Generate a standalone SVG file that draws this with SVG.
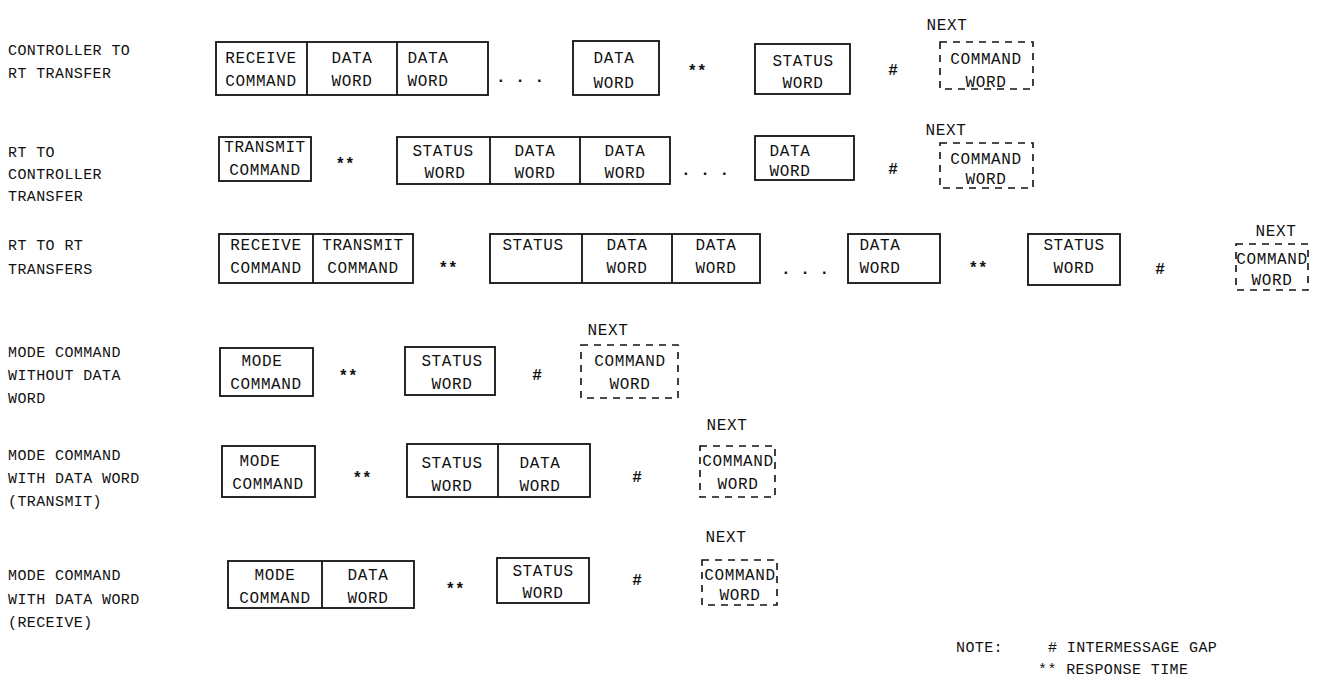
<svg xmlns="http://www.w3.org/2000/svg" width="1321" height="688" viewBox="0 0 1321 688">
<style>
.lbl{font-family:"Liberation Mono","DejaVu Sans Mono",monospace;font-size:15px;letter-spacing:0.4px;fill:#111}
.bt{font-family:"Liberation Mono","DejaVu Sans Mono",monospace;font-size:16px;letter-spacing:0.6px;fill:#111;text-anchor:middle}
.box{fill:none;stroke:#111;stroke-width:1.8}
.dash{fill:none;stroke:#111;stroke-width:1.6;stroke-dasharray:7 6}
.sym{font-family:"Liberation Mono","DejaVu Sans Mono",monospace;font-size:16px;font-weight:bold;fill:#111;text-anchor:middle}
</style>
<rect width="1321" height="688" fill="#fff"/>
<g id="labels">
<text class="lbl" x="8" y="55">CONTROLLER TO</text>
<text class="lbl" x="8" y="78">RT TRANSFER</text>
<text class="lbl" x="8" y="157">RT TO</text>
<text class="lbl" x="8" y="179">CONTROLLER</text>
<text class="lbl" x="8" y="201">TRANSFER</text>
<text class="lbl" x="8" y="250">RT TO RT</text>
<text class="lbl" x="8" y="274">TRANSFERS</text>
<text class="lbl" x="8" y="357">MODE COMMAND</text>
<text class="lbl" x="8" y="380">WITHOUT DATA</text>
<text class="lbl" x="8" y="403">WORD</text>
<text class="lbl" x="8" y="460">MODE COMMAND</text>
<text class="lbl" x="8" y="483">WITH DATA WORD</text>
<text class="lbl" x="8" y="506">(TRANSMIT)</text>
<text class="lbl" x="8" y="580">MODE COMMAND</text>
<text class="lbl" x="8" y="604">WITH DATA WORD</text>
<text class="lbl" x="8" y="627">(RECEIVE)</text>
</g>
<g id="row1">
<rect class="box" x="216" y="42" width="272" height="53"/>
<line class="box" x1="307" y1="42" x2="307" y2="95"/>
<line class="box" x1="397" y1="42" x2="397" y2="95"/>
<text class="bt" x="261" y="63">RECEIVE</text><text class="bt" x="261" y="86">COMMAND</text>
<text class="bt" x="352" y="63">DATA</text><text class="bt" x="352" y="86">WORD</text>
<text class="bt" x="428" y="63">DATA</text><text class="bt" x="428" y="86">WORD</text>
<text class="sym" x="520" y="82">.  .  .</text>
<rect class="box" x="573" y="41" width="86" height="54"/>
<text class="bt" x="614" y="63">DATA</text><text class="bt" x="614" y="88">WORD</text>
<text class="sym" x="697" y="76">**</text>
<rect class="box" x="755" y="44" width="95" height="50"/>
<text class="bt" x="803" y="66">STATUS</text><text class="bt" x="803" y="88">WORD</text>
<text class="sym" x="893" y="75">#</text>
<text class="bt" x="947" y="30">NEXT</text>
<rect class="dash" x="940" y="42" width="93" height="47"/>
<text class="bt" x="986" y="64">COMMAND</text><text class="bt" x="986" y="87">WORD</text>
</g>
<g id="row2">
<rect class="box" x="219" y="137" width="92" height="44"/>
<text class="bt" x="265" y="152">TRANSMIT</text><text class="bt" x="265" y="175">COMMAND</text>
<text class="sym" x="345" y="169">**</text>
<rect class="box" x="397" y="137" width="273" height="47"/>
<line class="box" x1="490" y1="137" x2="490" y2="184"/>
<line class="box" x1="580" y1="137" x2="580" y2="184"/>
<text class="bt" x="443" y="156">STATUS</text><text class="bt" x="445" y="178">WORD</text>
<text class="bt" x="535" y="156">DATA</text><text class="bt" x="535" y="178">WORD</text>
<text class="bt" x="625" y="156">DATA</text><text class="bt" x="625" y="178">WORD</text>
<text class="sym" x="705" y="175">.  .  .</text>
<rect class="box" x="755" y="136" width="99" height="44"/>
<text class="bt" x="790" y="156">DATA</text><text class="bt" x="790" y="176">WORD</text>
<text class="sym" x="893" y="174">#</text>
<text class="bt" x="946" y="135">NEXT</text>
<rect class="dash" x="940" y="143" width="93" height="45"/>
<text class="bt" x="986" y="164">COMMAND</text><text class="bt" x="986" y="184">WORD</text>
</g>
<g id="row3">
<rect class="box" x="219" y="234" width="194" height="49"/>
<line class="box" x1="313" y1="234" x2="313" y2="283"/>
<text class="bt" x="266" y="250">RECEIVE</text><text class="bt" x="266" y="273">COMMAND</text>
<text class="bt" x="363" y="250">TRANSMIT</text><text class="bt" x="363" y="273">COMMAND</text>
<text class="sym" x="448" y="273">**</text>
<rect class="box" x="490" y="234" width="270" height="49"/>
<line class="box" x1="582" y1="234" x2="582" y2="283"/>
<line class="box" x1="672" y1="234" x2="672" y2="283"/>
<text class="bt" x="533" y="250">STATUS</text>
<text class="bt" x="627" y="250">DATA</text><text class="bt" x="627" y="273">WORD</text>
<text class="bt" x="716" y="250">DATA</text><text class="bt" x="716" y="273">WORD</text>
<text class="sym" x="805" y="274">.  .  .</text>
<rect class="box" x="848" y="234" width="92" height="49"/>
<text class="bt" x="880" y="250">DATA</text><text class="bt" x="880" y="273">WORD</text>
<text class="sym" x="978" y="273">**</text>
<rect class="box" x="1028" y="234" width="92" height="51"/>
<text class="bt" x="1074" y="250">STATUS</text><text class="bt" x="1074" y="273">WORD</text>
<text class="sym" x="1160" y="274">#</text>
<text class="bt" x="1276" y="236">NEXT</text>
<rect class="dash" x="1236" y="244" width="72" height="46"/>
<text class="bt" x="1272" y="264">COMMAND</text><text class="bt" x="1272" y="285">WORD</text>
</g>
<g id="row4">
<rect class="box" x="220" y="348" width="93" height="48"/>
<text class="bt" x="262" y="366">MODE</text><text class="bt" x="266" y="389">COMMAND</text>
<text class="sym" x="348" y="381">**</text>
<rect class="box" x="405" y="347" width="90" height="48"/>
<text class="bt" x="452" y="366">STATUS</text><text class="bt" x="452" y="389">WORD</text>
<text class="sym" x="537" y="380">#</text>
<text class="bt" x="608" y="335">NEXT</text>
<rect class="dash" x="581" y="345" width="97" height="53"/>
<text class="bt" x="630" y="366">COMMAND</text><text class="bt" x="630" y="389">WORD</text>
</g>
<g id="row5">
<rect class="box" x="222" y="446" width="93" height="51"/>
<text class="bt" x="260" y="466">MODE</text><text class="bt" x="268" y="489">COMMAND</text>
<text class="sym" x="362" y="483">**</text>
<rect class="box" x="407" y="444" width="183" height="53"/>
<line class="box" x1="498" y1="444" x2="498" y2="497"/>
<text class="bt" x="452" y="468">STATUS</text><text class="bt" x="452" y="491">WORD</text>
<text class="bt" x="540" y="468">DATA</text><text class="bt" x="540" y="491">WORD</text>
<text class="sym" x="637" y="482">#</text>
<text class="bt" x="727" y="430">NEXT</text>
<rect class="dash" x="700" y="446" width="75" height="51"/>
<text class="bt" x="738" y="466">COMMAND</text><text class="bt" x="738" y="489">WORD</text>
</g>
<g id="row6">
<rect class="box" x="228" y="561" width="186" height="47"/>
<line class="box" x1="322" y1="561" x2="322" y2="608"/>
<text class="bt" x="275" y="580">MODE</text><text class="bt" x="275" y="603">COMMAND</text>
<text class="bt" x="368" y="580">DATA</text><text class="bt" x="368" y="603">WORD</text>
<text class="sym" x="455" y="594">**</text>
<rect class="box" x="497" y="558" width="92" height="45"/>
<text class="bt" x="543" y="576">STATUS</text><text class="bt" x="543" y="598">WORD</text>
<text class="sym" x="637" y="585">#</text>
<text class="bt" x="726" y="542">NEXT</text>
<rect class="dash" x="702" y="560" width="75" height="45"/>
<text class="bt" x="740" y="580">COMMAND</text><text class="bt" x="740" y="600">WORD</text>
</g>
<g id="note">
<text class="lbl" x="956" y="652">NOTE:</text>
<text class="lbl" x="1048" y="652"># INTERMESSAGE GAP</text>
<text class="lbl" x="1038" y="674">** RESPONSE TIME</text>
</g>
</svg>
